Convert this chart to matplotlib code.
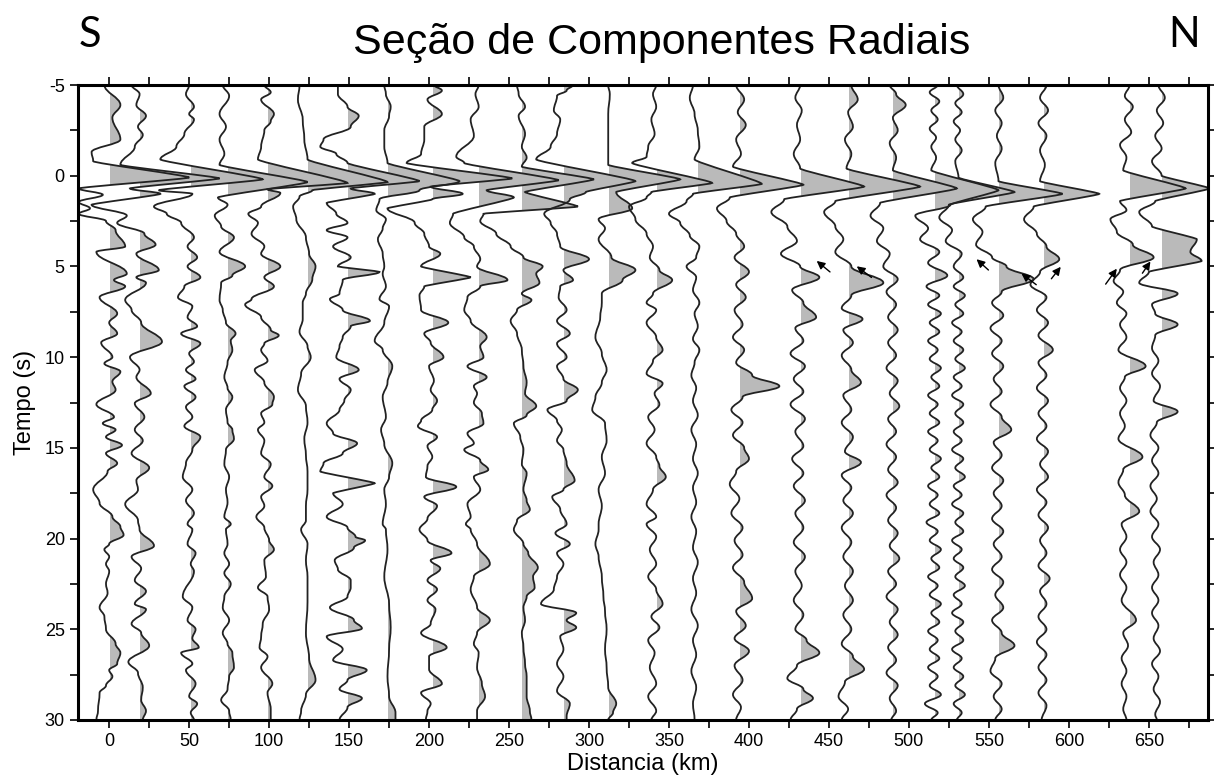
import matplotlib
matplotlib.use("Agg")
import matplotlib.pyplot as plt
from matplotlib.path import Path
from matplotlib.patches import PathPatch, Rectangle
from matplotlib.ticker import MultipleLocator

plt.rcParams["axes.unicode_minus"] = False

# ----------------------------
# Dados: picos (tempo s, amplitude km) de cada traco
# ----------------------------
distancias = [0, 19, 51, 74, 99, 124, 149, 174, 202, 231, 258, 284, 312, 342, 368,
              394, 432, 462, 490, 516, 531, 556, 584, 638, 658]

tr_000 = [(-5.0,-3),(-3.9,7),(-3.2,2),(-2.0,7),(-1.3,-11),(-0.8,-10),(0.1,50),(0.7,-19),(1.05,-4),(1.45,-19),(1.8,-12),(2.1,-19),(2.5,-2),(3.0,4),(3.9,10),(4.2,-8),(5.4,11),(5.75,3),(6.1,10),(6.7,-6),(7.6,5),(8.1,0),(8.7,5),(9.2,-5),(10.0,2),(10.35,-3),(10.8,7),(11.35,2),(11.8,4),(12.6,-8),(13.3,3),(13.65,-4),(14.0,4),(14.4,-2),(14.85,8),(15.3,-2),(15.85,5),(16.3,-1),(17.3,-10),(18.05,-6),(18.8,2),(19.35,7),(19.8,9),(20.3,0),(20.6,-3),(21.0,0),(21.4,-2),(21.8,0),(22.5,-2),(23.0,-1),(23.8,-6),(24.3,-3),(25.0,-2),(25.8,4),(26.3,7),(26.9,5),(27.25,0),(27.6,2),(28.1,-2),(28.5,-6),(29.5,-7),(30.0,-8)]
tr_019 = [(-5.0,-5),(-4.5,0),(-3.9,-2),(-3.3,4),(-2.7,-1),(-2.25,2),(-1.6,-3),(-0.6,-12),(0.15,50),(0.7,-6),(1.0,13),(1.6,-30),(2.2,-8),(2.6,-14),(3.2,3),(3.8,10),(4.3,-2),(5.2,12),(5.6,-2),(5.9,4),(6.85,-9),(7.4,-5),(8.1,1),(9.15,14),(10.0,-6),(10.7,0),(11.1,-2),(12.0,7),(12.55,-3),(13.3,3),(14.0,-3),(14.6,2),(15.3,-5),(16.1,6),(16.8,-2),(17.3,-1),(18.1,-9),(19.0,-1),(19.5,0),(20.4,9),(21.0,-5),(21.65,1),(22.3,-3),(22.9,4),(23.6,-3),(23.9,4),(24.7,-5),(25.2,1),(25.9,6),(26.8,-7),(27.4,-1),(28.2,2),(28.9,1),(29.5,4),(30.0,2)]
tr_051 = [(-5.0,-1),(-4.5,-3),(-3.8,2),(-3.4,-1),(-3.1,2),(-2.3,-4),(-1.6,-9),(-0.9,-19),(0.2,45),(0.8,-20),(1.0,1),(1.7,-23),(2.1,-15),(2.6,-6),(3.4,2),(3.9,-2),(4.5,4),(5.0,-2),(5.6,6),(6.1,-4),(6.7,-8),(7.2,1),(7.8,-2),(8.3,4),(8.7,-6),(9.25,6),(9.8,-1),(10.25,2),(10.7,-3),(11.2,3),(11.6,-4),(12.2,3),(12.75,-3),(13.3,1),(13.8,-4),(14.4,6),(15.1,1),(15.85,-3),(16.6,-5),(17.3,1),(17.9,-3),(18.6,2),(19.2,-2),(19.5,1),(20.3,-2),(20.8,3),(21.4,0),(21.8,2),(23.2,-5),(23.8,1),(24.5,-2),(25.0,3),(25.5,1),(26.0,5),(26.3,-6),(26.9,1),(27.25,-3),(28.0,3),(28.7,-1),(29.1,4),(29.6,0),(30.0,2)]
tr_074 = [(-5.0,-3),(-4.4,1),(-3.4,-5),(-2.7,-1),(-2.0,-5),(-1.2,-2),(-0.6,-5),(0.35,50),(1.2,-6),(1.6,0),(2.2,-8),(2.8,-4),(3.4,4),(4.2,-5),(5.0,11),(5.5,3),(5.9,-4),(6.85,-5),(7.4,-3),(8.1,-1),(8.7,5),(9.1,2),(9.6,3),(10.3,0),(11.1,-2),(11.7,0),(12.2,3),(12.9,-1),(13.6,0),(14.0,3),(14.5,4),(15.1,-1),(15.9,-2),(16.6,1),(17.3,-1),(18.0,0),(18.8,-2),(19.2,2),(19.5,-1),(20.3,0),(20.8,-2),(21.4,1),(21.9,-2),(22.5,2),(23.2,-2),(23.8,-3),(24.5,1),(25.2,-3),(25.8,0),(26.3,3),(27.1,4),(27.6,1),(28.3,0),(28.9,-4),(29.5,1),(30.0,2)]
tr_099 = [(-5.0,-2),(-4.6,2),(-4.2,-4),(-3.4,4),(-3.0,2),(-2.5,-2),(-1.6,-4),(-0.9,-6),(0.4,50),(0.75,0),(0.95,8),(1.7,-4),(2.1,-12),(2.6,-6),(3.2,-10),(3.9,-2),(4.3,-4),(5.0,8),(5.6,-2),(6.1,4),(6.8,-10),(7.1,-14),(7.8,-4),(8.5,2),(8.8,7),(9.25,-2),(9.6,-4),(10.2,0),(10.7,-8),(11.4,-2),(12.2,4),(12.6,3),(13.1,-4),(13.6,-2),(14.0,-6),(14.6,-2),(15.3,-4),(15.9,2),(16.6,-2),(17.1,3),(17.7,-4),(18.2,-2),(18.8,-7),(19.4,-2),(20.1,1),(20.6,4),(21.2,-2),(22.1,-1),(22.7,-6),(23.2,0),(23.9,1),(24.7,-3),(25.4,-4),(26.0,-5),(26.5,0),(27.1,-4),(28.0,3),(28.5,0),(29.4,2),(30.0,2)]
tr_124 = [(-5.0,-5),(-4.2,-6),(-3.1,-3),(-2.0,-2),(-0.9,0),(0.35,50),(0.8,3),(1.15,-5),(1.7,-9),(2.4,-7),(3.4,-1),(4.3,1),(5.0,5),(5.7,3),(6.5,-1),(7.0,-3),(7.9,-3),(8.6,-5),(9.4,0),(10.0,2),(10.9,-4),(11.8,-6),(12.7,-1),(13.6,0),(14.5,-2),(15.4,-1),(16.3,0),(17.3,0),(18.2,-1),(19.0,-1),(19.5,-4),(20.3,0),(21.2,-1),(22.1,0),(23.5,0),(25.2,-1),(26.6,1),(27.8,5),(28.6,-1),(29.5,-4),(30.0,-5)]
tr_149 = [(-5.0,-6),(-4.5,-6),(-3.8,0),(-3.3,7),(-2.7,2),(-2.0,-15),(-1.6,-17),(-1.2,-7),(-0.7,0),(0.3,45),(0.7,2),(1.0,17),(1.5,-13),(2.1,-7),(2.6,0),(3.0,-13),(3.4,0),(3.9,-9),(4.5,2),(5.0,-6),(5.3,20),(5.75,-3),(6.5,-5),(6.8,-11),(7.4,-3),(8.0,14),(8.3,2),(8.9,-3),(9.4,-5),(10.0,-7),(10.7,7),(11.2,-5),(11.8,2),(12.4,-2),(12.9,-5),(13.65,-13),(14.2,-9),(14.75,6),(15.3,-3),(15.85,-15),(16.3,-17),(16.95,17),(17.5,-9),(18.1,-3),(18.8,-13),(19.4,0),(19.9,5),(20.1,11),(20.5,4),(21.2,-8),(21.7,-6),(22.3,2),(22.7,2),(23.2,0),(23.8,-11),(24.5,4),(24.95,9),(25.4,-13),(26.1,-3),(26.7,-9),(27.25,12),(27.8,0),(28.3,-5),(28.8,9),(29.3,0),(30.0,-5)]
tr_174 = [(-5.0,-2),(-4.5,-1),(-3.8,2),(-3.3,1),(-2.5,-2),(-1.6,-2),(-0.7,0),(0.3,45),(0.8,20),(1.3,-5),(1.9,-7),(2.4,-1),(2.9,-3),(3.5,-6),(4.3,-3),(5.0,-2),(5.4,-3),(6.1,-1),(6.8,-5),(7.2,1),(8.1,-2),(9.1,-8),(9.6,-3),(10.5,3),(11.4,0),(12.2,-3),(13.3,-1),(14.0,-4),(14.8,-2),(15.85,3),(16.6,1),(17.3,-2),(18.1,-1),(19.2,-3),(19.5,-1),(20.6,0),(22.1,-2),(23.6,1),(24.9,2),(26.1,1),(27.6,0),(28.7,1),(29.6,5),(30.0,5)]
tr_202 = [(-5.0,1),(-4.7,6),(-4.2,-3),(-3.4,6),(-2.7,-5),(-2.0,-5),(-1.2,-7),(-0.7,-16),(0.15,50),(0.6,-1),(1.0,19),(1.3,0),(1.8,-28),(2.6,-11),(3.2,-5),(3.9,-2),(4.3,5),(5.0,-7),(5.6,24),(6.1,-5),(6.6,-8),(7.4,-7),(8.1,10),(8.7,-5),(9.2,-1),(10.0,7),(10.5,-2),(11.3,1),(11.8,-1),(12.4,3),(12.9,0),(13.5,-7),(13.8,-9),(14.4,3),(14.9,-3),(15.5,0),(16.0,-3),(16.6,-4),(17.15,15),(17.7,-5),(18.2,3),(18.9,-3),(19.5,-8),(20.1,-3),(20.8,12),(21.2,-1),(21.65,5),(22.3,-3),(22.8,3),(23.4,-3),(23.9,2),(24.7,-1),(25.2,-7),(26.0,9),(26.5,-2),(27.2,-2),(28.0,6),(28.5,-7),(29.1,-1),(29.5,-3),(30.0,-4)]
tr_231 = [(-5.0,0),(-4.5,-2),(-3.8,0),(-3.1,-5),(-2.2,-3),(-1.05,-14),(-0.7,-9),(0.25,50),(0.8,5),(1.2,22),(2.1,-16),(2.6,-18),(3.4,-9),(3.9,-3),(4.6,1),(5.0,-1),(5.75,18),(6.1,1),(6.7,-7),(7.4,-9),(8.0,-5),(8.9,5),(9.4,1),(10.0,3),(10.5,-7),(11.1,5),(11.6,-3),(12.0,-1),(12.5,-3),(13.1,2),(13.65,3),(14.2,-7),(14.75,-3),(15.1,-9),(15.7,1),(16.2,6),(16.6,-3),(17.3,1),(18.1,-7),(18.8,-5),(19.2,-8),(19.5,-5),(20.3,-1),(21.4,7),(22.1,-3),(22.8,-5),(23.8,-1),(24.5,7),(25.2,-1),(25.8,-3),(26.3,0),(27.1,-1),(28.0,2),(28.7,4),(29.5,-1),(30.0,-1)]
tr_258 = [(-5.0,-3),(-4.5,-2),(-3.8,2),(-3.3,-2),(-2.3,2),(-1.6,0),(-1.0,3),(-0.5,0),(0.2,45),(0.9,2),(1.7,35),(2.1,-24),(2.5,-26),(3.2,-16),(3.9,-7),(4.5,1),(5.0,13),(5.4,9),(5.9,11),(6.5,0),(6.85,6),(7.4,-3),(8.0,-7),(8.7,-3),(9.6,0),(10.5,1),(11.4,3),(12.0,2),(12.7,9),(13.2,3),(13.65,-5),(14.4,-1),(15.1,1),(15.9,0),(16.4,3),(17.3,1),(17.9,3),(18.4,5),(19.0,-3),(19.5,-5),(20.3,1),(20.8,4),(21.6,10),(22.1,7),(22.7,8),(23.2,3),(23.8,1),(24.5,2),(25.2,0),(26.0,1),(26.9,2),(27.6,3),(28.7,3),(29.5,5),(30.0,6)]
tr_284 = [(-5.0,6),(-4.7,2),(-4.4,-4),(-3.6,-6),(-3.1,-2),(-2.3,-4),(-1.6,-8),(-0.9,-17),(0.3,45),(0.9,14),(1.3,4),(2.1,-12),(2.6,-8),(3.2,-4),(3.9,-2),(4.6,16),(5.2,0),(5.75,6),(6.1,-2),(6.7,-3),(7.4,2),(8.0,-4),(8.7,4),(9.25,-4),(10.0,2),(10.5,-4),(11.2,0),(11.8,9),(12.4,2),(12.9,-10),(13.5,-4),(14.0,-1),(14.6,-4),(15.1,0),(15.85,2),(16.8,7),(17.3,0),(17.7,-7),(18.4,-2),(19.2,2),(19.7,-5),(20.3,4),(20.8,-4),(21.4,0),(22.1,-4),(22.8,-6),(23.6,-14),(24.1,8),(24.5,2),(24.9,8),(25.4,-2),(26.1,0),(26.9,-4),(27.6,0),(28.4,-4),(29.1,4),(29.8,2),(30.0,2)]
tr_312 = [(-5.0,0),(-4.5,1),(-3.4,0),(-2.5,0),(-1.6,0),(-0.6,0),(0.2,45),(0.9,5),(1.8,15),(2.4,-6),(2.9,-2),(3.5,-6),(4.5,2),(5.2,17),(5.75,9),(6.5,-4),(7.0,-4),(7.8,-5),(8.9,-8),(9.8,-4),(10.7,-1),(11.4,-4),(12.2,-8),(12.9,-10),(13.65,-2),(14.6,-1),(15.5,-4),(16.4,-2),(17.3,-6),(18.2,-4),(19.2,-6),(19.5,-6),(20.3,-8),(21.0,-6),(22.1,-4),(23.2,-3),(24.0,-2),(25.0,-1),(26.1,-2),(27.1,-1),(28.2,0),(29.1,5),(29.6,3),(30.0,0)]
tr_342 = [(-5.0,0),(-4.5,-2),(-3.8,0),(-3.1,-3),(-2.3,-1),(-1.6,-5),(-1.05,-6),(-0.7,-15),(0.4,35),(0.9,-3),(1.2,-6),(1.7,-17),(2.4,-13),(3.2,-6),(3.9,-2),(4.5,-4),(5.2,2),(5.75,10),(6.5,-2),(7.0,-6),(7.4,0),(8.1,-6),(8.9,0),(9.6,4),(10.2,-2),(10.9,-6),(11.45,4),(12.0,-1),(12.6,2),(13.3,-5),(14.0,-1),(14.75,-6),(15.5,0),(16.0,2),(16.6,6),(17.3,-2),(18.1,-6),(18.8,0),(19.2,-6),(19.9,0),(20.6,-4),(21.4,0),(22.1,-5),(22.8,0),(23.6,4),(24.3,-3),(24.9,2),(25.6,-5),(26.3,-1),(27.1,-4),(28.0,0),(28.7,-5),(29.5,0),(30.0,-3)]
tr_368 = [(-5.0,-3),(-4.3,-5),(-3.4,-2),(-2.5,0),(-1.6,1),(-0.9,-2),(0.45,40),(1.0,-3),(1.4,-7),(2.1,-18),(2.6,-11),(3.3,-5),(3.9,1),(4.5,-1),(5.0,-7),(5.6,-1),(6.3,-3),(7.0,1),(7.6,-2),(8.3,0),(9.0,-3),(9.6,1),(10.3,-2),(11.0,-4),(11.7,-1),(12.4,-3),(13.2,0),(14.0,-4),(14.8,-1),(15.6,-3),(16.4,0),(17.2,-3),(18.0,-1),(18.8,-4),(19.6,-1),(20.5,-3),(21.3,0),(22.2,-3),(23.0,-1),(23.9,-4),(24.8,0),(25.6,-3),(26.4,-1),(27.3,-4),(28.2,-1),(29.1,-3),(30.0,-2)]
tr_394 = [(-5.0,-2),(-4.2,3),(-3.5,-1),(-2.8,4),(-2.0,-2),(-1.2,1),(-0.5,-4),(0.5,40),(1.2,-6),(1.8,-14),(2.5,-8),(3.2,-2),(3.9,3),(4.5,-3),(5.3,6),(6.0,-2),(6.7,4),(7.4,-3),(8.2,2),(8.9,-4),(9.6,3),(10.3,-2),(11.0,8),(11.6,25),(12.2,2),(12.9,-5),(13.6,2),(14.3,-4),(15.0,3),(15.6,6),(16.3,-2),(17.0,-6),(17.8,0),(18.6,-5),(19.4,2),(20.1,-3),(20.9,2),(21.6,-4),(22.4,3),(23.3,8),(24.0,-2),(24.8,4),(25.5,-3),(26.2,6),(27.0,-3),(27.8,2),(28.6,-4),(29.3,1),(30.0,-2)]
tr_432 = [(-5.0,0),(-4.3,-3),(-3.6,1),(-2.8,-2),(-2.0,0),(-1.2,-4),(-0.4,0),(0.6,40),(1.3,-10),(2.0,-18),(2.8,-8),(3.6,-2),(4.3,-12),(5.0,0),(5.6,12),(6.3,-5),(7.0,2),(7.8,10),(8.4,-3),(9.1,2),(9.8,-6),(10.5,3),(11.2,-4),(11.9,2),(12.6,-6),(13.4,3),(14.1,-3),(14.9,2),(15.6,-5),(16.4,2),(17.1,-4),(17.9,3),(18.6,-3),(19.4,2),(20.2,-4),(21.0,3),(21.8,-3),(22.6,1),(23.4,-4),(24.2,2),(25.0,-3),(25.6,4),(26.3,12),(27.0,-2),(27.7,-8),(28.3,2),(28.8,8),(29.4,-2),(30.0,-6)]
tr_462 = [(-5.0,2),(-4.2,6),(-3.5,0),(-2.7,3),(-2.0,-2),(-1.2,2),(-0.4,-1),(0.6,45),(1.4,-8),(2.0,-15),(2.8,-8),(3.5,-3),(4.2,-8),(5.0,2),(5.9,22),(6.6,2),(7.3,-4),(7.9,9),(8.5,-3),(9.2,3),(9.9,-4),(10.7,2),(11.4,8),(12.1,-3),(12.9,2),(13.6,-4),(14.4,3),(15.2,-2),(15.8,8),(16.5,-4),(17.2,2),(17.9,-3),(18.6,3),(19.4,-4),(20.2,2),(21.0,-3),(21.8,3),(22.6,-2),(23.4,3),(24.2,-3),(25.0,2),(25.8,-4),(26.5,3),(27.2,10),(27.9,-2),(28.7,-6),(29.4,0),(30.0,-4)]
tr_490 = [(-5.0,-2),(-4.5,2),(-3.9,8),(-3.2,0),(-2.5,3),(-1.8,-2),(-1.0,2),(-0.3,0),(0.7,40),(1.5,-8),(2.2,-14),(2.9,-6),(3.6,-10),(4.3,-2),(5.0,-6),(5.7,3),(6.4,-4),(7.1,2),(7.8,-3),(8.5,3),(9.2,-3),(9.9,2),(10.6,-4),(11.3,3),(12.0,-2),(12.7,4),(13.4,-3),(14.1,2),(14.8,-4),(15.5,2),(16.2,-3),(16.9,3),(17.6,-4),(18.3,2),(19.0,-3),(19.7,3),(20.4,-2),(21.1,4),(21.8,-3),(22.5,2),(23.2,-4),(23.9,3),(24.6,-2),(25.3,3),(26.0,-3),(26.7,2),(27.4,-4),(28.1,3),(28.8,-2),(29.5,2),(30.0,-1)]
tr_516 = [(-5.0,2),(-4.6,-3),(-4.1,3),(-3.6,-2),(-3.1,2),(-2.6,-3),(-2.1,1),(-1.6,-2),(-1.0,1),(-0.3,-2),(0.8,40),(1.6,10),(2.2,-12),(2.9,-4),(3.5,-9),(4.2,3),(4.8,-4),(5.5,8),(6.1,-5),(6.6,3),(7.1,-4),(7.6,4),(8.1,-3),(8.6,3),(9.1,-4),(9.6,2),(10.1,-3),(10.6,4),(11.1,-2),(11.6,3),(12.1,-4),(12.6,2),(13.1,-3),(13.6,3),(14.1,-4),(14.6,2),(15.1,-3),(15.6,4),(16.1,-2),(16.6,3),(17.1,-4),(17.6,2),(18.1,-3),(18.6,3),(19.1,-5),(19.6,2),(20.1,-3),(20.6,4),(21.1,-2),(21.6,3),(22.1,-4),(22.6,2),(23.1,-3),(23.6,4),(24.1,-2),(24.6,3),(25.1,-4),(25.6,2),(26.1,-3),(26.6,3),(27.1,-4),(27.6,2),(28.1,-3),(28.6,4),(29.1,-6),(29.6,2),(30.0,-2)]
tr_531 = [(-5.0,-1),(-4.5,3),(-4.0,-2),(-3.5,2),(-3.0,-3),(-2.5,1),(-2.0,-2),(-1.4,2),(-0.8,-2),(0.1,0),(0.9,35),(1.6,-6),(2.3,-12),(3.0,-4),(3.6,-8),(4.3,2),(5.0,-3),(5.6,3),(6.1,-3),(6.6,4),(7.1,-2),(7.6,3),(8.1,-4),(8.6,2),(9.1,-3),(9.6,3),(10.1,-2),(10.6,4),(11.1,-3),(11.6,2),(12.1,-4),(12.6,3),(13.1,-2),(13.6,3),(14.1,-3),(14.6,2),(15.1,-4),(15.6,3),(16.1,-2),(16.6,4),(17.1,-3),(17.6,2),(18.1,-4),(18.6,3),(19.1,-2),(19.6,3),(20.1,-4),(20.6,2),(21.1,-3),(21.6,3),(22.1,-2),(22.6,4),(23.1,-3),(23.6,2),(24.1,-4),(24.6,3),(25.1,-2),(25.6,3),(26.1,-4),(26.6,2),(27.1,-3),(27.6,3),(28.1,-2),(28.6,4),(29.1,-3),(29.6,2),(30.0,-1)]
tr_556 = [(-5.0,0),(-4.3,3),(-3.6,-2),(-2.9,2),(-2.2,-1),(-1.5,2),(-0.7,-2),(0.3,0),(1.0,40),(1.7,-8),(2.4,-16),(3.1,-10),(3.8,-14),(4.5,-4),(5.0,5),(5.7,22),(6.4,2),(7.0,-4),(7.7,3),(8.4,-5),(9.1,2),(9.8,-4),(10.5,3),(11.2,-3),(11.9,2),(12.6,-5),(13.3,2),(14.0,8),(14.7,-3),(15.4,2),(16.1,-4),(16.8,3),(17.5,-3),(18.2,2),(18.9,-4),(19.6,3),(20.3,-3),(21.0,2),(21.7,-4),(22.4,3),(23.1,-2),(23.8,3),(24.5,-4),(25.2,2),(25.9,10),(26.6,-2),(27.3,-5),(28.0,2),(28.7,-3),(29.4,2),(30.0,-2)]
tr_584 = [(-5.0,2),(-4.3,-2),(-3.6,3),(-2.9,-3),(-2.2,2),(-1.4,-2),(-0.6,1),(0.3,-2),(1.0,35),(1.7,-6),(2.4,-12),(3.2,-4),(3.9,2),(4.6,10),(5.3,-2),(6.0,-8),(6.7,2),(7.4,-4),(8.1,3),(8.8,-3),(9.6,6),(10.3,-3),(11.0,2),(11.7,-4),(12.4,3),(13.1,-3),(13.8,2),(14.5,-4),(15.2,3),(15.9,-2),(16.6,3),(17.3,-4),(18.0,2),(18.7,-3),(19.4,3),(20.1,-2),(20.8,2),(21.5,-3),(22.2,4),(22.9,-2),(23.6,2),(24.3,-3),(25.0,2),(25.7,-4),(26.4,2),(27.1,-3),(27.8,2),(28.5,-3),(29.2,2),(30.0,-1)]
tr_638 = [(-5.0,0),(-4.4,-3),(-3.8,2),(-3.1,-3),(-2.4,1),(-1.7,-6),(-1.0,-2),(-0.3,-4),(0.7,35),(1.4,-6),(1.9,-2),(2.4,-12),(3.1,-8),(3.8,2),(4.5,15),(5.2,-6),(5.8,-10),(6.4,-4),(7.0,-8),(7.6,-2),(8.2,-6),(8.9,-2),(9.6,-7),(10.5,10),(11.1,-3),(11.7,-6),(12.4,-2),(13.1,-6),(13.8,-3),(14.5,-7),(15.5,8),(16.2,-4),(16.9,-7),(17.6,-3),(18.5,6),(19.2,-5),(19.9,-2),(20.6,-6),(21.3,-2),(22.0,-6),(22.7,-2),(23.4,-5),(24.5,4),(25.2,-4),(25.9,-1),(26.6,-5),(27.3,-2),(28.0,-5),(28.7,-2),(29.4,-4),(30.0,-2)]
tr_658 = [(-5.0,-2),(-4.3,2),(-3.6,-3),(-2.9,1),(-2.2,-4),(-1.5,0),(-0.8,-6),(0.0,0),(0.7,30),(1.4,-4),(2.0,-14),(2.8,-6),(3.5,22),(4.2,18),(4.7,25),(5.3,-8),(5.9,-14),(6.5,10),(7.1,-6),(7.6,-4),(8.2,10),(8.8,-4),(9.5,-6),(10.2,-2),(10.9,-6),(11.6,-1),(12.4,-5),(13.0,10),(13.6,-3),(14.3,-7),(15.0,-2),(15.7,-6),(16.4,-2),(17.1,-7),(17.8,-3),(18.5,-7),(19.2,-2),(19.9,-6),(20.6,-1),(21.3,-5),(22.0,-2),(22.7,-6),(23.4,-2),(24.1,-6),(24.8,-2),(25.5,-5),(26.2,-1),(26.9,-6),(27.6,-2),(28.3,-5),(29.0,-1),(29.7,-4),(30.0,-3)]

tracos = [tr_000, tr_019, tr_051, tr_074, tr_099, tr_124, tr_149, tr_174, tr_202,
          tr_231, tr_258, tr_284, tr_312, tr_342, tr_368, tr_394, tr_432, tr_462,
          tr_490, tr_516, tr_531, tr_556, tr_584, tr_638, tr_658]

# setas (cauda -> ponta), em km e s
setas_cauda = [(452, 5.4), (478, 5.7), (551, 5.3), (581, 6.1), (588, 5.8), (622, 6.1), (645, 5.5)]
setas_ponta = [(441, 4.6), (466, 4.9), (541, 4.5), (569, 5.3), (596, 4.9), (631, 5.0), (652, 4.6)]

CINZA = "#bababa"


def caminho(base, picos):
    # curva suave passando pelos picos (tangente vertical em cada pico);
    # segmentos de grande amplitude ficam quase retos (pulso triangular)
    verts = [(base + picos[0][1], picos[0][0])]
    codes = [Path.MOVETO]
    for (t0, a0), (t1, a1) in zip(picos[:-1], picos[1:]):
        dt = t1 - t0
        k = 0.12 if abs(a1 - a0) > 25 else 0.38
        verts += [(base + a0, t0 + k * dt), (base + a1, t1 - k * dt), (base + a1, t1)]
        codes += [Path.CURVE4] * 3
    return verts, codes


fig = plt.figure(figsize=(12.14, 7.76), dpi=100)
ax = fig.add_axes([78 / 1214, 56 / 776, 1130 / 1214, 635 / 776])

for base, picos in zip(distancias, tracos):
    verts, codes = caminho(base, picos)
    # preenchimento da parte positiva
    vf = verts + [(base, picos[-1][0]), (base, picos[0][0]), verts[0]]
    cf = codes + [Path.LINETO, Path.LINETO, Path.CLOSEPOLY]
    fill = PathPatch(Path(vf, cf), facecolor=CINZA, edgecolor="none", zorder=1)
    ax.add_patch(fill)
    clip = Rectangle((base + 0.3, -5), 400, 35, transform=ax.transData)
    fill.set_clip_path(clip)
    ax.add_patch(PathPatch(Path(verts, codes), facecolor="none", edgecolor="#222222",
                           lw=1.3, zorder=2))

for cauda, ponta in zip(setas_cauda, setas_ponta):
    ax.annotate("", xy=ponta, xytext=cauda,
                arrowprops=dict(arrowstyle="-|>", color="black", lw=1.0,
                                mutation_scale=12), zorder=3)

ax.set_xlim(-19.5, 687)
ax.set_ylim(30, -5)
ax.xaxis.set_major_locator(MultipleLocator(50))
ax.xaxis.set_minor_locator(MultipleLocator(25))
ax.yaxis.set_major_locator(MultipleLocator(5))
ax.yaxis.set_minor_locator(MultipleLocator(2.5))
ax.tick_params(which="both", direction="out", top=True, right=True,
               labelsize=13, width=1.2)
ax.tick_params(which="major", length=6)
ax.tick_params(which="minor", length=6)
for sp in ax.spines.values():
    sp.set_linewidth(2.2)
for lab in ax.get_xticklabels() + ax.get_yticklabels():
    lab.set_fontfamily("Liberation Sans")

ax.set_xlabel("Distancia (km)", fontsize=17, family="Liberation Sans", labelpad=2)
ax.set_ylabel("Tempo (s)", fontsize=17, family="Liberation Sans", labelpad=6)

fig.text(0.545, 0.945, "Seção de Componentes Radiais", ha="center", va="center",
         fontsize=31, family="Liberation Sans")
fig.text(0.074, 0.955, "S", ha="center", va="center", fontsize=30, family="Lato")
fig.text(0.975, 0.955, "N", ha="center", va="center", fontsize=30, family="Lato")

fig.savefig("out.png", dpi=100)
